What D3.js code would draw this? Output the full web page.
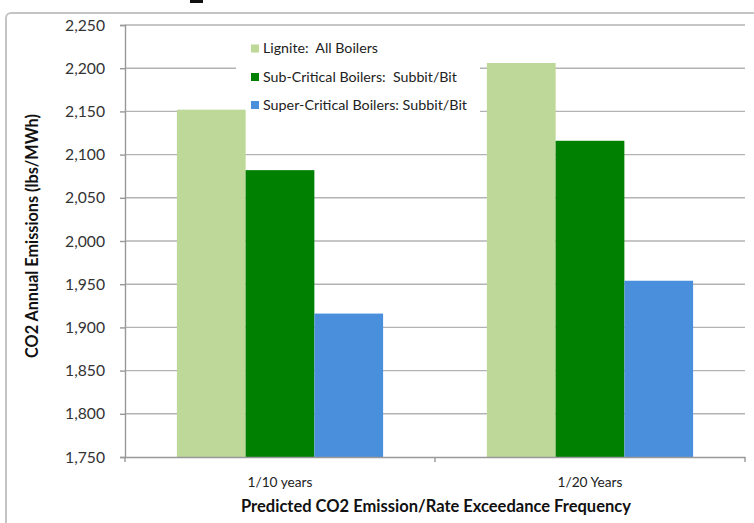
<!DOCTYPE html>
<html>
<head>
<meta charset="utf-8">
<script src="https://cdn.jsdelivr.net/npm/d3@7"></script>
<style>
  html, body { margin: 0; padding: 0; background: #fff; }
  svg { display: block; }
  text { font-family: Lato, "Open Sans", "Liberation Sans", sans-serif; }
</style>
</head>
<body>
<svg id="chart" width="754" height="523"></svg>
<script>
// Predicted CO2 annual emissions by boiler type and exceedance frequency
const categories = ["1/10 years", "1/20 Years"];
const seriesNames = [
  "Lignite:  All Boilers",
  "Sub-Critical Boilers:  Subbit/Bit",
  "Super-Critical Boilers: Subbit/Bit"
];
const lignite = [2152, 2206];
const subCritical = [2082, 2116];
const superCritical = [1916, 1954];
const yTicks = [1750, 1800, 1850, 1900, 1950, 2000, 2050, 2100, 2150, 2200, 2250];
const seriesColors = ["#bdd898", "#008000", "#4a8fdc"];

const seriesValues = [lignite, subCritical, superCritical];
const rows = categories.map((c, i) => ({
  category: c,
  values: seriesNames.map((s, j) => ({ series: s, value: seriesValues[j][i], color: seriesColors[j] }))
}));

const svg = d3.select("#chart");

// shrink or grow a text's font size so it spans a given width
function fitWidth(sel, target) {
  sel.each(function () {
    const w = this.getComputedTextLength();
    const fs = parseFloat(d3.select(this).attr("font-size"));
    if (w > 0) d3.select(this).attr("font-size", (fs * target / w).toFixed(2));
  });
}

// outer chart frame
svg.append("rect")
  .attr("x", 6).attr("y", 13)
  .attr("width", 780).attr("height", 540)
  .attr("rx", 5)
  .attr("fill", "none")
  .attr("stroke", "#c4c4c4")
  .attr("stroke-width", 2);

// remnant of a heading above the frame
svg.append("rect")
  .attr("x", 190).attr("y", 0)
  .attr("width", 13).attr("height", 3)
  .attr("fill", "#111");

const plot = { left: 125, right: 745, top: 25, bottom: 457 };

const y = d3.scaleLinear().domain([1750, 2250]).range([plot.bottom, plot.top]);
const x0 = d3.scaleBand().domain(categories).range([plot.left, plot.right]).padding(0);
const x1 = d3.scaleBand().domain(seriesNames).range([0, x0.bandwidth()])
  .paddingInner(0).paddingOuter(0.755);

// horizontal gridlines
svg.append("g")
  .selectAll("line")
  .data(yTicks.filter(t => t !== 1750))
  .join("line")
  .attr("x1", plot.left).attr("x2", plot.right)
  .attr("y1", d => y(d)).attr("y2", d => y(d))
  .attr("stroke", "#b3b3b3")
  .attr("stroke-width", 1.4);

// y axis
const yAxis = svg.append("g")
  .attr("transform", `translate(${plot.left},0)`)
  .call(d3.axisLeft(y).tickValues(yTicks).tickFormat(d3.format(",")).tickSizeOuter(0).tickSize(5).tickPadding(15));
yAxis.select(".domain").attr("stroke", "#999").attr("stroke-width", 1.4);
yAxis.selectAll(".tick line").attr("stroke", "#999").attr("stroke-width", 1.4);
yAxis.selectAll(".tick text")
  .attr("fill", "#333")
  .attr("font-size", 16)
  .attr("font-family", "Lato, 'Open Sans', sans-serif");
fitWidth(yAxis.selectAll(".tick text").filter(d => d === 2250), 40);
const tickFs = yAxis.selectAll(".tick text").filter(d => d === 2250).attr("font-size");
yAxis.selectAll(".tick text").attr("font-size", tickFs);

// legend background sits over the gridlines
svg.append("rect")
  .attr("x", 236).attr("y", 33)
  .attr("width", 244).attr("height", 80)
  .attr("fill", "#fff");

// bars
svg.append("g")
  .selectAll("g")
  .data(rows)
  .join("g")
  .attr("transform", d => `translate(${x0(d.category)},0)`)
  .selectAll("rect")
  .data(d => d.values)
  .join("rect")
  .attr("x", d => x1(d.series))
  .attr("width", x1.bandwidth())
  .attr("y", d => y(d.value))
  .attr("height", d => y(1750) - y(d.value))
  .attr("fill", d => d.color);

// x axis
const xAxis = svg.append("g")
  .attr("transform", `translate(0,${plot.bottom})`)
  .call(d3.axisBottom(x0).tickSize(0).tickPadding(20));
xAxis.select(".domain").attr("stroke", "#999").attr("stroke-width", 1.4);
xAxis.selectAll(".tick text")
  .attr("fill", "#222")
  .attr("font-size", 14)
  .attr("font-family", "Lato, 'Open Sans', sans-serif")
  .attr("dy", "0.71em");
fitWidth(xAxis.selectAll(".tick text"), 65);

// category boundary tick marks
const bounds = [plot.left, ...categories.slice(1).map(c => x0(c)), plot.right];
svg.append("g")
  .selectAll("line")
  .data(bounds)
  .join("line")
  .attr("x1", d => d).attr("x2", d => d)
  .attr("y1", plot.bottom).attr("y2", plot.bottom + 5)
  .attr("stroke", "#999")
  .attr("stroke-width", 1.4);

// legend
const legend = svg.append("g");
const legendY = [48.5, 77, 105];
const legendItems = legend.selectAll("g")
  .data(seriesNames)
  .join("g")
  .attr("transform", (d, i) => `translate(251,${legendY[i]})`);
legendItems.append("rect")
  .attr("x", 0).attr("y", -4)
  .attr("width", 8).attr("height", 8)
  .attr("fill", (d, i) => seriesColors[i]);
const legendWidths = [115, 194, 204];
legendItems.append("text")
  .attr("x", 12).attr("y", 0)
  .attr("dy", "0.35em")
  .attr("fill", "#222")
  .attr("font-size", 14)
  .style("white-space", "pre")
  .text(d => d)
  .each(function (d, i) { fitWidth(d3.select(this), legendWidths[i]); });

// axis titles
const xTitle = svg.append("text")
  .attr("x", (plot.left + plot.right) / 2 + 1)
  .attr("y", 512)
  .attr("text-anchor", "middle")
  .attr("font-weight", "bold")
  .attr("font-size", 15)
  .attr("fill", "#111")
  .text("Predicted CO2 Emission/Rate Exceedance Frequency");
fitWidth(xTitle, 390);

const yTitle = svg.append("text")
  .attr("transform", "translate(38,236) rotate(-90)")
  .attr("text-anchor", "middle")
  .attr("font-weight", "bold")
  .attr("font-size", 15)
  .attr("fill", "#111")
  .text("CO2 Annual Emissions (lbs/MWh)");
fitWidth(yTitle, 244);
</script>
</body>
</html>
